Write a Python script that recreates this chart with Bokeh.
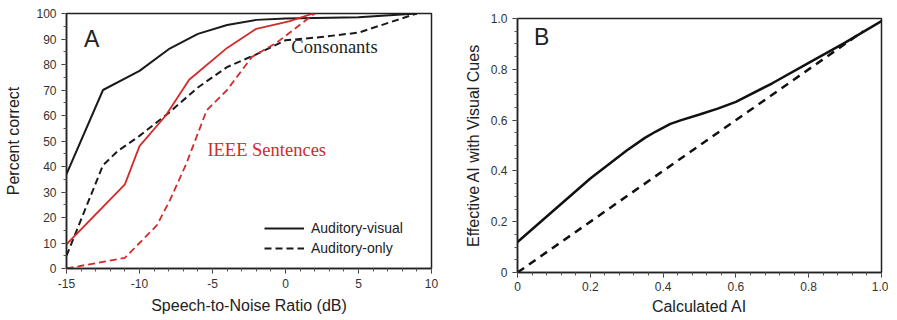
from bokeh.plotting import figure
from bokeh.layouts import row, column
from bokeh.models import Range1d, SingleIntervalTicker, Label, Legend, LegendItem, Spacer
from bokeh.embed import file_html
from bokeh.resources import INLINE

# ---- Panel A data ----
snr_av_cons = [-15, -12.5, -10, -8, -6, -4, -2, 0, 5, 9]
pc_av_cons = [37, 70, 77.5, 86, 92, 95.5, 97.5, 98, 98.5, 100]
snr_ao_cons = [-15, -12.5, -11.5, -10, -8, -6, -4, -2, 0, 2, 5, 9]
pc_ao_cons = [5, 40.5, 46, 52, 61, 71, 79, 84, 89.5, 90.5, 92.5, 100]
snr_av_ieee = [-15, -11, -10, -8.2, -6.6, -4, -2, 0.3, 1.9]
pc_av_ieee = [9.5, 33, 48, 60, 74, 86.5, 94, 97, 100]
snr_ao_ieee = [-15, -11, -10, -8.8, -7.9, -6.8, -5.4, -4, -2.3, -0.6, 2]
pc_ao_ieee = [0, 4.2, 10, 17, 27, 41, 62, 70, 83, 88.6, 100]
snr_tick_text = {-15: "-15", -10: "-10", -5: "-5"}

# ---- Panel B data ----
ai_calc = [0, 0.1, 0.2, 0.3, 0.35, 0.38, 0.42, 0.45, 0.5, 0.55, 0.6, 0.7, 0.8, 0.9, 1.0]
ai_eff_av = [0.12, 0.245, 0.37, 0.48, 0.53, 0.555, 0.585, 0.6, 0.622, 0.645, 0.672, 0.745, 0.825, 0.905, 0.99]
ai_ref = [0, 0.95]
ai_ref_eff = [0, 0.95]
ai_tick_text = {0: "0", 1: "1.0"}

FONT = "Liberation Sans"
SERIF = "Liberation Serif"
RED = "#d32a2a"


def style(p):
    p.outline_line_color = "#222222"
    p.outline_line_width = 1.5
    p.xgrid.visible = False
    p.ygrid.visible = False
    for ax in (p.xaxis[0], p.yaxis[0]):
        ax.axis_line_color = "#222222"
        ax.axis_line_width = 1.5
        ax.major_tick_in = 0
        ax.major_tick_out = 5
        ax.minor_tick_in = 0
        ax.minor_tick_out = 3
        ax.major_tick_line_color = "#333333"
        ax.minor_tick_line_color = "#555555"
        ax.major_label_text_font = FONT
        ax.major_label_text_font_size = "12px"
        ax.major_label_text_color = "#333333"
        ax.axis_label_text_font = FONT
        ax.axis_label_text_font_size = "16px"
        ax.axis_label_text_font_style = "normal"
        ax.axis_label_text_color = "#222222"
    p.xaxis.major_label_standoff = 5
    p.xaxis.axis_label_standoff = 6


# ---------- Panel A ----------
pa = figure(width=449, height=318, output_backend="svg", toolbar_location=None,
            x_range=Range1d(-15, 10), y_range=Range1d(0, 100),
            min_border_left=66, min_border_right=18, min_border_top=13, min_border_bottom=50)
pa.xaxis.ticker = SingleIntervalTicker(interval=5, num_minor_ticks=5)
pa.yaxis.ticker = SingleIntervalTicker(interval=10, num_minor_ticks=2)
pa.xaxis.major_label_overrides = snr_tick_text
pa.xaxis.axis_label = "Speech-to-Noise Ratio (dB)"
pa.yaxis.axis_label = "Percent correct"
style(pa)
pa.yaxis.axis_label_standoff = 11

r_av = pa.line(snr_av_cons, pc_av_cons, line_color="#1a1a1a", line_width=2)
r_ao = pa.line(snr_ao_cons, pc_ao_cons, line_color="#1a1a1a", line_width=2, line_dash="7 4")
pa.line(snr_av_ieee, pc_av_ieee, line_color=RED, line_width=1.8)
pa.line(snr_ao_ieee, pc_ao_ieee, line_color=RED, line_width=1.8, line_dash="7 4")

pa.add_layout(Label(x=-13.8, y=85, text="A", text_font=FONT, text_font_size="23px",
                    text_color="#222222"))
pa.add_layout(Label(x=0.4, y=83, text="Consonants", text_font=SERIF, text_font_size="18.5px",
                    text_color="#222222"))
pa.add_layout(Label(x=-5.35, y=42.5, text="IEEE Sentences", text_font=SERIF,
                    text_font_size="18.5px", text_color=RED))

leg = Legend(items=[LegendItem(label="Auditory-visual", renderers=[r_av]),
                    LegendItem(label="Auditory-only", renderers=[r_ao])],
             location=(198, 10), padding=0, margin=0, spacing=0,
             glyph_width=40, glyph_height=20, label_height=20, label_standoff=7,
             label_text_font=FONT, label_text_font_size="14px", label_text_color="#222222",
             border_line_color=None, background_fill_alpha=0)
pa.add_layout(leg)

# ---------- Panel B ----------
pb = figure(width=439, height=316, output_backend="svg", toolbar_location=None,
            x_range=Range1d(0, 1), y_range=Range1d(0, 1),
            min_border_left=68, min_border_right=7, min_border_top=15, min_border_bottom=47)
pb.xaxis.ticker = SingleIntervalTicker(interval=0.2, num_minor_ticks=5)
pb.yaxis.ticker = SingleIntervalTicker(interval=0.2, num_minor_ticks=4)
pb.xaxis.major_label_overrides = ai_tick_text
pb.yaxis.major_label_overrides = ai_tick_text
pb.xaxis.axis_label = "Calculated AI"
pb.yaxis.axis_label = "Effective AI with Visual Cues"
style(pb)
pb.xaxis.major_label_standoff = 4
pb.xaxis.axis_label_standoff = 4
pb.yaxis.axis_label_standoff = 6

pb.line(ai_calc, ai_eff_av, line_color="#111111", line_width=2.5)
pb.line(ai_ref, ai_ref_eff, line_color="#111111", line_width=2.5, line_dash="8 6")
pb.add_layout(Label(x=0.045, y=0.875, text="B", text_font=FONT, text_font_size="23px",
                    text_color="#222222"))

layout = row(pa, column(Spacer(width=439, height=3), pb))
open("out.html", "w").write(file_html(layout, INLINE))
